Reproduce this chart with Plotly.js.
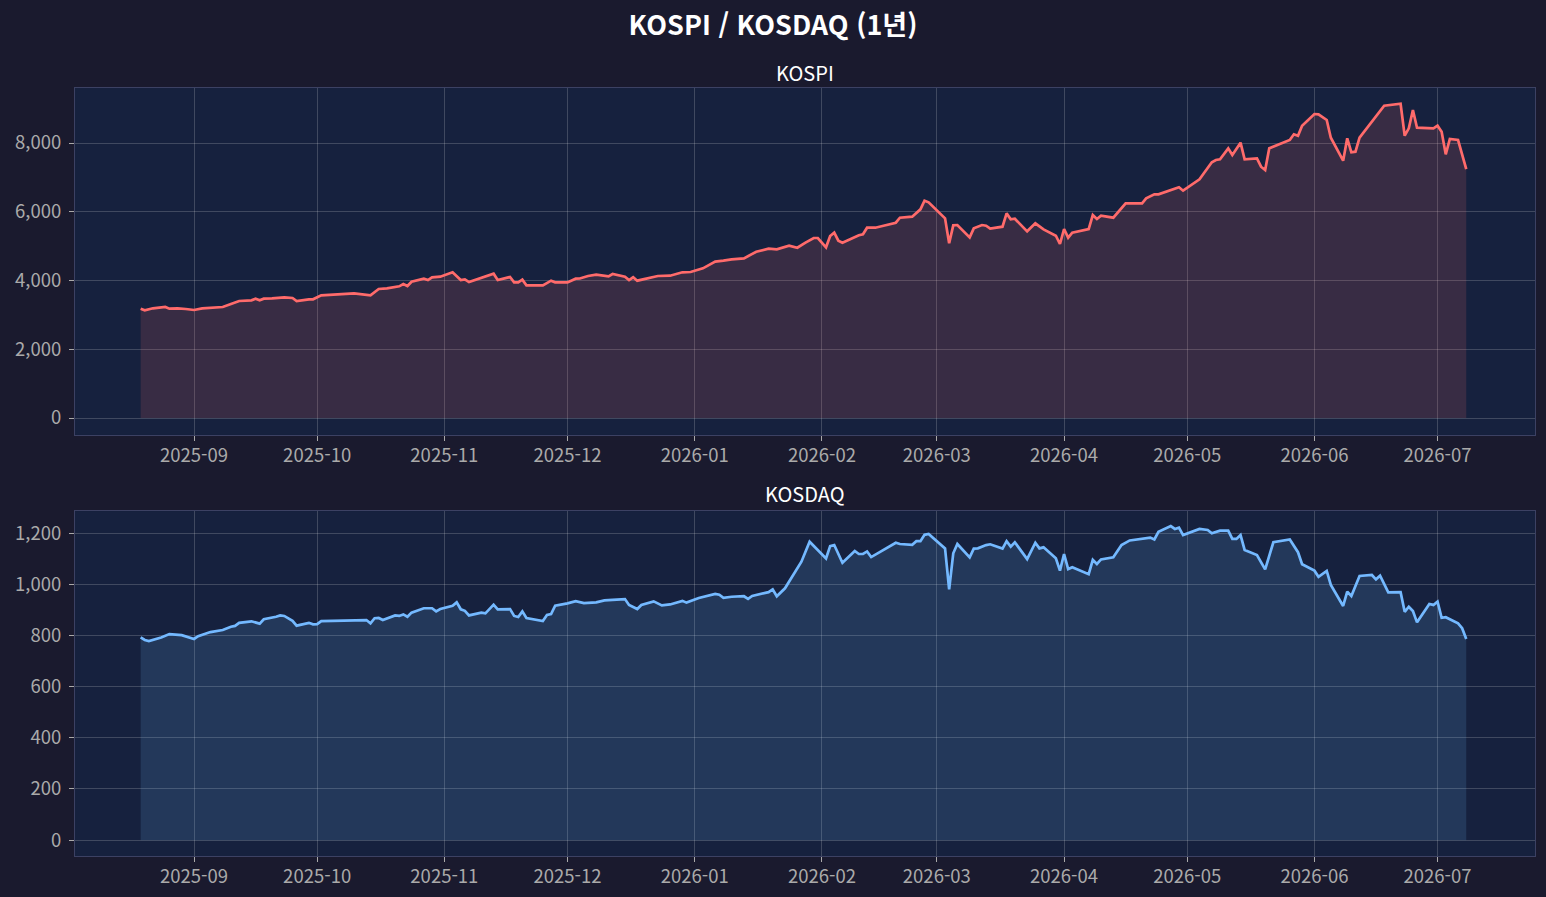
<!DOCTYPE html>
<html lang="ko">
<head>
<meta charset="utf-8">
<title>KOSPI / KOSDAQ (1년)</title>
<script src="https://cdn.plot.ly/plotly-3.0.1.min.js"></script>
<style>
    html, body {
        margin: 0;
        padding: 0;
        background: #1a1a2e;
    }

    #chart {
        width: 1546px;
        height: 897px;
    }
</style>
</head>
<body>
<div id="chart"></div>
<script>
/******************************************************************************
 * KOSPI / KOSDAQ 1년 차트
 ******************************************************************************/

const kospiDates = [
    "2025-08-19", "2025-08-20", "2025-08-22", "2025-08-25", "2025-08-26",
    "2025-08-28", "2025-08-30", "2025-09-01", "2025-09-03", "2025-09-06",
    "2025-09-08", "2025-09-10", "2025-09-12", "2025-09-15", "2025-09-16",
    "2025-09-17", "2025-09-18", "2025-09-20", "2025-09-23", "2025-09-25",
    "2025-09-26", "2025-09-29", "2025-09-30", "2025-10-02", "2025-10-06",
    "2025-10-10", "2025-10-14", "2025-10-16", "2025-10-18", "2025-10-21",
    "2025-10-22", "2025-10-23", "2025-10-24", "2025-10-27", "2025-10-28",
    "2025-10-29", "2025-10-31", "2025-11-03", "2025-11-05", "2025-11-06",
    "2025-11-07", "2025-11-13", "2025-11-14", "2025-11-17", "2025-11-18",
    "2025-11-19", "2025-11-20", "2025-11-21", "2025-11-25", "2025-11-27",
    "2025-11-28", "2025-12-01", "2025-12-03", "2025-12-04", "2025-12-06",
    "2025-12-08", "2025-12-11", "2025-12-12", "2025-12-15", "2025-12-16",
    "2025-12-17", "2025-12-18", "2025-12-23", "2025-12-26", "2025-12-29",
    "2025-12-31", "2026-01-03", "2026-01-06", "2026-01-08", "2026-01-10",
    "2026-01-13", "2026-01-16", "2026-01-19", "2026-01-21", "2026-01-24",
    "2026-01-26", "2026-01-28", "2026-01-30", "2026-01-31", "2026-02-02",
    "2026-02-03", "2026-02-04", "2026-02-05", "2026-02-06", "2026-02-10",
    "2026-02-11", "2026-02-12", "2026-02-14", "2026-02-19", "2026-02-20",
    "2026-02-23", "2026-02-25", "2026-02-26", "2026-02-27", "2026-03-03",
    "2026-03-04", "2026-03-05", "2026-03-06", "2026-03-09", "2026-03-10",
    "2026-03-12", "2026-03-13", "2026-03-14", "2026-03-17", "2026-03-18",
    "2026-03-19", "2026-03-20", "2026-03-23", "2026-03-25", "2026-03-27",
    "2026-03-30", "2026-03-31", "2026-04-01", "2026-04-02", "2026-04-03",
    "2026-04-07", "2026-04-08", "2026-04-09", "2026-04-10", "2026-04-13",
    "2026-04-16", "2026-04-20", "2026-04-21", "2026-04-23", "2026-04-24",
    "2026-04-27", "2026-04-29", "2026-04-30", "2026-05-04", "2026-05-07",
    "2026-05-08", "2026-05-09", "2026-05-11", "2026-05-12", "2026-05-14",
    "2026-05-15", "2026-05-18", "2026-05-19", "2026-05-20", "2026-05-21",
    "2026-05-26", "2026-05-27", "2026-05-28", "2026-05-29", "2026-06-01",
    "2026-06-02", "2026-06-04", "2026-06-05", "2026-06-08", "2026-06-09",
    "2026-06-10", "2026-06-11", "2026-06-12", "2026-06-18", "2026-06-20",
    "2026-06-22", "2026-06-23", "2026-06-24", "2026-06-25", "2026-06-26",
    "2026-06-30", "2026-07-01", "2026-07-02", "2026-07-03", "2026-07-04",
    "2026-07-06", "2026-07-08"
];

const kospiValues = [
    3180, 3133, 3191, 3229, 3180,
    3191, 3171, 3142, 3191, 3220,
    3229, 3316, 3404, 3424, 3471,
    3424, 3471, 3481, 3511, 3491,
    3404, 3453, 3453, 3569, 3598,
    3627, 3569, 3753, 3772, 3831,
    3898, 3840, 3965, 4052, 4014,
    4093, 4110, 4238, 4014, 4034,
    3956, 4198, 4014, 4102, 3946,
    3946, 4024, 3860, 3860, 3995,
    3946, 3946, 4052, 4058, 4131,
    4169, 4122, 4189, 4111, 4014,
    4093, 3995, 4131, 4140, 4238,
    4247, 4354, 4548, 4576, 4616,
    4645, 4838, 4925, 4906, 5013,
    4954, 5100, 5236, 5236, 4966,
    5294, 5391, 5158, 5100, 5315,
    5344, 5536, 5536, 5681, 5827,
    5856, 6071, 6322, 6275, 5809,
    5082, 5605, 5614, 5256, 5518,
    5614, 5594, 5507, 5565, 5953,
    5779, 5798, 5430, 5663, 5488,
    5304, 5062, 5498, 5246, 5391,
    5498, 5905, 5789, 5885, 5827,
    6246, 6246, 6391, 6507, 6507,
    6633, 6711, 6613, 6944, 7438,
    7505, 7525, 7845, 7650, 8009,
    7525, 7554, 7311, 7214, 7845,
    8087, 8253, 8212, 8503, 8843,
    8834, 8669, 8154, 7485, 8137,
    7729, 7747, 8154, 9085, 9105,
    9143, 8212, 8427, 8960, 8445,
    8427, 8503, 8329, 7671, 8116,
    8087, 7243
];

const kosdaqDates = [
    "2025-08-19", "2025-08-20", "2025-08-21", "2025-08-24", "2025-08-26",
    "2025-08-29", "2025-09-01", "2025-09-02", "2025-09-05", "2025-09-08",
    "2025-09-10", "2025-09-11", "2025-09-12", "2025-09-15", "2025-09-17",
    "2025-09-18", "2025-09-21", "2025-09-22", "2025-09-23", "2025-09-25",
    "2025-09-26", "2025-09-29", "2025-09-30", "2025-10-01", "2025-10-02",
    "2025-10-12", "2025-10-13", "2025-10-14", "2025-10-15", "2025-10-16",
    "2025-10-17", "2025-10-20", "2025-10-21", "2025-10-22", "2025-10-23",
    "2025-10-24", "2025-10-27", "2025-10-29", "2025-10-30", "2025-10-31",
    "2025-11-03", "2025-11-04", "2025-11-05", "2025-11-06", "2025-11-07",
    "2025-11-10", "2025-11-11", "2025-11-13", "2025-11-14", "2025-11-17",
    "2025-11-18", "2025-11-19", "2025-11-20", "2025-11-21", "2025-11-25",
    "2025-11-26", "2025-11-27", "2025-11-28", "2025-12-01", "2025-12-03",
    "2025-12-05", "2025-12-08", "2025-12-10", "2025-12-12", "2025-12-15",
    "2025-12-16", "2025-12-18", "2025-12-19", "2025-12-22", "2025-12-24",
    "2025-12-26", "2025-12-29", "2025-12-30", "2026-01-02", "2026-01-04",
    "2026-01-06", "2026-01-07", "2026-01-08", "2026-01-10", "2026-01-13",
    "2026-01-14", "2026-01-15", "2026-01-19", "2026-01-20", "2026-01-21",
    "2026-01-23", "2026-01-27", "2026-01-29", "2026-02-02", "2026-02-03",
    "2026-02-04", "2026-02-06", "2026-02-09", "2026-02-10", "2026-02-11",
    "2026-02-12", "2026-02-13", "2026-02-19", "2026-02-20", "2026-02-23",
    "2026-02-24", "2026-02-25", "2026-02-26", "2026-02-27", "2026-03-03",
    "2026-03-04", "2026-03-05", "2026-03-06", "2026-03-09", "2026-03-10",
    "2026-03-11", "2026-03-13", "2026-03-14", "2026-03-17", "2026-03-18",
    "2026-03-19", "2026-03-20", "2026-03-23", "2026-03-25", "2026-03-26",
    "2026-03-27", "2026-03-29", "2026-03-30", "2026-03-31", "2026-04-01",
    "2026-04-02", "2026-04-03", "2026-04-07", "2026-04-08", "2026-04-09",
    "2026-04-10", "2026-04-13", "2026-04-15", "2026-04-17", "2026-04-20",
    "2026-04-22", "2026-04-23", "2026-04-24", "2026-04-27", "2026-04-28",
    "2026-04-29", "2026-04-30", "2026-05-04", "2026-05-06", "2026-05-07",
    "2026-05-09", "2026-05-11", "2026-05-12", "2026-05-13", "2026-05-14",
    "2026-05-15", "2026-05-18", "2026-05-20", "2026-05-22", "2026-05-26",
    "2026-05-28", "2026-05-29", "2026-06-01", "2026-06-02", "2026-06-04",
    "2026-06-05", "2026-06-08", "2026-06-09", "2026-06-10", "2026-06-12",
    "2026-06-15", "2026-06-16", "2026-06-17", "2026-06-19", "2026-06-22",
    "2026-06-23", "2026-06-24", "2026-06-25", "2026-06-26", "2026-06-29",
    "2026-06-30", "2026-07-01", "2026-07-02", "2026-07-03", "2026-07-06",
    "2026-07-07", "2026-07-08"
];

const kosdaqValues = [
    792, 782, 778, 792, 805,
    801, 786, 797, 813, 821,
    834, 837, 849, 855, 846,
    863, 873, 878, 876, 857,
    838, 849, 843, 844, 856,
    860, 860, 847, 867, 868,
    860, 878, 876, 882, 873,
    889, 906, 906, 894, 903,
    916, 929, 902, 896, 878,
    889, 886, 920, 902, 903,
    876, 872, 894, 868, 856,
    880, 883, 916, 925, 934,
    926, 929, 937, 939, 942,
    919, 903, 919, 933, 917,
    921, 935, 928, 946, 955,
    962, 959, 947, 951, 953,
    943, 954, 969, 980, 953,
    984, 1088, 1166, 1101, 1149,
    1153, 1084, 1130, 1118, 1118,
    1128, 1106, 1162, 1157, 1154,
    1168, 1168, 1193, 1196, 1140,
    980, 1121, 1157, 1105, 1139,
    1140, 1153, 1156, 1139, 1168,
    1147, 1164, 1098, 1162, 1140,
    1144, 1114, 1101, 1053, 1118,
    1059, 1066, 1039, 1095, 1079,
    1097, 1105, 1153, 1171, 1178,
    1182, 1175, 1205, 1227, 1216,
    1221, 1192, 1216, 1212, 1199,
    1209, 1209, 1177, 1177, 1192,
    1134, 1114, 1058, 1164, 1175,
    1125, 1078, 1053, 1029, 1052,
    997, 915, 971, 954, 1032,
    1036, 1019, 1033, 968, 969,
    892, 912, 895, 851, 923,
    919, 932, 869, 871, 847,
    828, 786
];

const xRange = ["2025-08-03", "2026-07-24 18:00"];
const kospiRange = [-494, 9600];
const kosdaqRange = [-62, 1286];

const FONT = "'Noto Sans CJK KR', 'Noto Sans', sans-serif";
const GRID = "rgba(255, 255, 255, 0.18)";
const SPINE = "#3c4163";
const TICK_TEXT = "#aaaaaa";

function buildTrace(x, y, axis, color, fill) {
    return {
        x,
        y,
        xaxis: "x" + axis,
        yaxis: "y" + axis,
        type: "scatter",
        mode: "lines",
        fill: "tozeroy",
        fillcolor: fill,
        hoverinfo: "x+y",

        line: {
            color,
            width: 2.7
        }
    };
}

function xAxis(anchor) {
    return {
        anchor,
        type: "date",
        range: xRange,
        tick0: "2025-09-01",
        dtick: "M1",
        tickformat: "%Y-%m",
        ticks: "outside",
        ticklen: 5,
        tickcolor: TICK_TEXT,
        ticklabelstandoff: -1,
        showgrid: true,
        gridcolor: GRID,
        showline: true,
        mirror: true,
        linecolor: SPINE,
        zeroline: false,
        tickfont: {
            family: FONT,
            size: 18.5,
            color: TICK_TEXT
        }
    };
}

function yAxis(anchor, domain, range, dtick) {
    return {
        anchor,
        domain,
        range,
        dtick,
        tick0: 0,
        tickformat: ",d",
        ticks: "outside",
        ticklen: 5,
        tickcolor: TICK_TEXT,
        ticklabelstandoff: 4,
        showgrid: true,
        gridcolor: GRID,
        showline: true,
        mirror: true,
        linecolor: SPINE,
        zeroline: false,
        tickfont: {
            family: FONT,
            size: 18.5,
            color: TICK_TEXT
        }
    };
}

const topDomain = [0.5482, 1];
const bottomDomain = [0, 0.4492];

const layout = {
    width: 1546,
    height: 897,
    paper_bgcolor: "#1a1a2e",
    plot_bgcolor: "#16213e",
    showlegend: false,

    margin: {
        t: 88,
        r: 11,
        b: 41,
        l: 75
    },

    title: {
        text: "<b>KOSPI / KOSDAQ (1년)</b>",
        x: 0.5,
        xref: "container",
        xanchor: "center",
        y: 0.972,
        yanchor: "middle",
        font: {
            family: FONT,
            size: 27,
            color: "#ffffff"
        }
    },

    xaxis: xAxis("y"),
    yaxis: yAxis("x", topDomain, kospiRange, 2000),
    xaxis2: xAxis("y2"),
    yaxis2: yAxis("x2", bottomDomain, kosdaqRange, 200),

    annotations: [
        {
            text: "KOSPI",
            xref: "paper",
            yref: "paper",
            x: 0.5,
            y: topDomain[1],
            yanchor: "middle",
            yshift: 16,
            showarrow: false,
            font: {
                family: FONT,
                size: 20,
                color: "#ffffff"
            }
        },
        {
            text: "KOSDAQ",
            xref: "paper",
            yref: "paper",
            x: 0.5,
            y: bottomDomain[1],
            yanchor: "middle",
            yshift: 18,
            showarrow: false,
            font: {
                family: FONT,
                size: 20,
                color: "#ffffff"
            }
        }
    ]
};

Plotly.newPlot(
    "chart",
    [
        buildTrace(kospiDates, kospiValues, "", "#ff6b6b", "rgba(255, 107, 107, 0.15)"),
        buildTrace(kosdaqDates, kosdaqValues, "2", "#74b9ff", "rgba(116, 185, 255, 0.15)")
    ],
    layout,
    {
        displayModeBar: false,
        staticPlot: true
    }
);
</script>
</body>
</html>
